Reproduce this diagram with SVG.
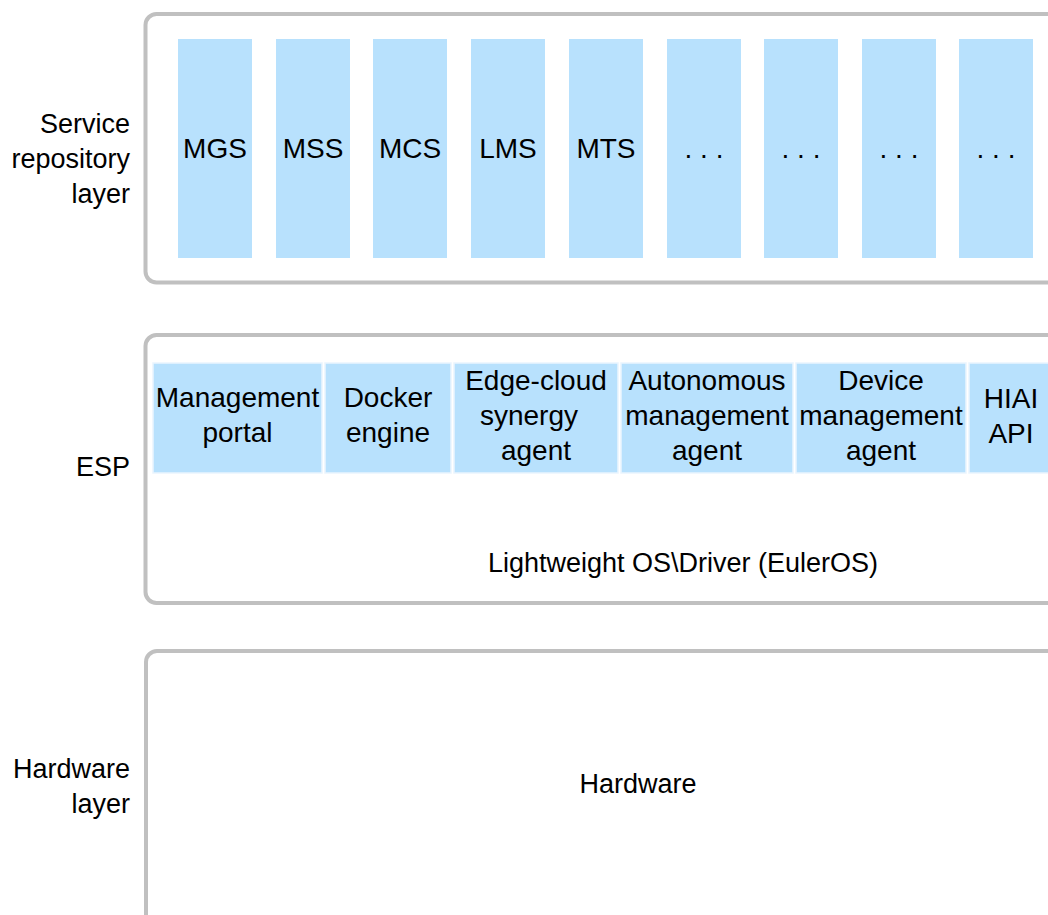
<svg xmlns="http://www.w3.org/2000/svg" width="1048" height="915" viewBox="0 0 1048 915">
<style>
.frame{fill:#fff;stroke:#c0c0c0;stroke-width:4}
.blk{fill:#b8e1fd}
.eb{fill:#b8e1fd;stroke:#eaf5fe;stroke-width:1.5}
text{font-family:"Liberation Sans",Arial,sans-serif;fill:#000}
.lbl{font-size:27px;text-anchor:end}
.t{font-size:28px;text-anchor:middle}
</style>
<rect width="1048" height="915" fill="#fff"/>
<g id="layer-labels">
<text class="lbl" x="130" y="133">Service</text>
<text class="lbl" x="130" y="168">repository</text>
<text class="lbl" x="130" y="203">layer</text>
<text class="lbl" x="130" y="476">ESP</text>
<text class="lbl" x="130" y="778">Hardware</text>
<text class="lbl" x="130" y="813">layer</text>
</g>
<g id="service-layer">
<rect class="frame" x="145.5" y="14" width="930" height="268.5" rx="11"/>
<g id="mgs"><rect class="blk" x="178" y="39" width="74" height="219"/><text class="t" x="215" y="158">MGS</text></g>
<g id="mss"><rect class="blk" x="276" y="39" width="74" height="219"/><text class="t" x="313" y="158">MSS</text></g>
<g id="mcs"><rect class="blk" x="373" y="39" width="74" height="219"/><text class="t" x="410" y="158">MCS</text></g>
<g id="lms"><rect class="blk" x="471" y="39" width="74" height="219"/><text class="t" x="508" y="158">LMS</text></g>
<g id="mts"><rect class="blk" x="569" y="39" width="74" height="219"/><text class="t" x="606" y="158">MTS</text></g>
<g id="etc1"><rect class="blk" x="667" y="39" width="74" height="219"/><text class="t" x="704" y="158">. . .</text></g>
<g id="etc2"><rect class="blk" x="764" y="39" width="74" height="219"/><text class="t" x="801" y="158">. . .</text></g>
<g id="etc3"><rect class="blk" x="862" y="39" width="74" height="219"/><text class="t" x="899" y="158">. . .</text></g>
<g id="etc4"><rect class="blk" x="959" y="39" width="74" height="219"/><text class="t" x="996" y="158">. . .</text></g>
</g>
<g id="esp">
<rect class="frame" x="145.5" y="335" width="930" height="268" rx="11"/>
<g id="mgmt-portal"><rect class="eb" x="153" y="363" width="169" height="110"/><text class="t" x="237.5" y="407">Management</text><text class="t" x="237.5" y="442">portal</text></g>
<g id="docker"><rect class="eb" x="325" y="363" width="126" height="110"/><text class="t" x="388" y="407">Docker</text><text class="t" x="388" y="442">engine</text></g>
<g id="edge-cloud"><rect class="eb" x="454" y="363" width="164" height="110"/><text class="t" x="536" y="390">Edge-cloud</text><text class="t" x="529" y="425">synergy</text><text class="t" x="536" y="460">agent</text></g>
<g id="autonomous"><rect class="eb" x="621" y="363" width="172" height="110"/><text class="t" x="707" y="390">Autonomous</text><text class="t" x="707" y="425">management</text><text class="t" x="707" y="460">agent</text></g>
<g id="device"><rect class="eb" x="796" y="363" width="170" height="110"/><text class="t" x="881" y="390">Device</text><text class="t" x="881" y="425">management</text><text class="t" x="881" y="460">agent</text></g>
<g id="hiai"><rect class="eb" x="969" y="363" width="90" height="110"/><text class="t" x="1011" y="408">HIAI</text><text class="t" x="1011" y="443">API</text></g>
<text class="t" x="683" y="572" style="font-size:27px">Lightweight OS\Driver (EulerOS)</text>
</g>
<g id="hardware-layer">
<rect class="frame" x="146" y="651" width="930" height="300" rx="11"/>
<text class="t" x="638" y="793" style="font-size:27px">Hardware</text>
</g>
<g id="connectors"></g>
</svg>
